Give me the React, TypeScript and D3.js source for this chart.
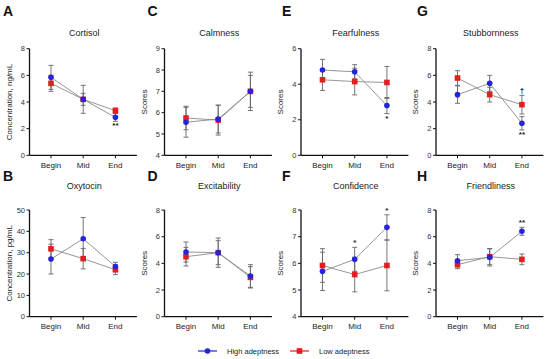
import React from "react";
import * as d3 from "d3";

const categories = ["Begin", "Mid", "End"];

const panelLetters = ["A", "C", "E", "G", "B", "D", "F", "H"];
const panelTitles = ["Cortisol", "Calmness", "Fearfulness", "Stubbornness", "Oxytocin", "Excitability", "Confidence", "Friendliness"];
const yLabels = ["Concentration, ng/mL", "Scores", "Scores", "Scores", "Concentration, pg/mL", "Scores", "Scores", "Scores"];
const yDomains: [number, number][] = [[0, 8], [4, 9], [0, 6], [0, 8], [0, 50], [0, 8], [4, 8], [0, 8]];
const yTicks: number[][] = [
  [0, 2, 4, 6, 8],
  [4, 5, 6, 7, 8, 9],
  [0, 2, 4, 6],
  [0, 2, 4, 6, 8],
  [0, 10, 20, 30, 40, 50],
  [0, 2, 4, 6, 8],
  [4, 5, 6, 7, 8],
  [0, 2, 4, 6, 8],
];

// High adeptness means / error
const highMeans: number[][] = [
  [5.85, 4.2, 2.85],
  [5.55, 5.7, 7.0],
  [4.8, 4.7, 2.8],
  [4.55, 5.4, 2.4],
  [27, 36.5, 23.5],
  [4.85, 4.8, 3.05],
  [5.7, 6.15, 7.35],
  [4.2, 4.45, 6.4],
];
const highErr: number[][] = [
  [0.9, 1.05, 0.3],
  [0.7, 0.65, 0.9],
  [0.6, 0.4, 0.45],
  [0.65, 0.6, 0.5],
  [7, 10, 2],
  [0.75, 1.1, 0.85],
  [0.72, 0.45, 0.47],
  [0.45, 0.65, 0.3],
];
// Low adeptness means / error
const lowMeans: number[][] = [
  [5.4, 4.2, 3.35],
  [5.75, 5.65, 7.0],
  [4.25, 4.15, 4.1],
  [5.8, 4.55, 3.8],
  [31.8, 27.2, 22],
  [4.5, 4.8, 2.95],
  [5.92, 5.58, 5.92],
  [3.9, 4.5, 4.3],
];
const lowErr: number[][] = [
  [0.6, 0.45, 0.2],
  [0.55, 0.7, 0.75],
  [0.6, 0.75, 0.9],
  [0.55, 0.55, 0.7],
  [4.3, 4.8, 2.3],
  [0.7, 0.9, 0.8],
  [0.63, 0.65, 0.95],
  [0.3, 0.6, 0.4],
];
// significance marks: [panel, category index, series, text, position]
const sigMarks: [number, number, "high" | "low", string, "above" | "below"][] = [
  [0, 2, "high", "**", "below"],
  [2, 2, "high", "*", "below"],
  [3, 2, "high", "**", "below"],
  [3, 2, "low", "†", "above"],
  [6, 1, "high", "*", "above"],
  [6, 2, "high", "*", "above"],
  [7, 2, "high", "**", "above"],
];
const seriesNames = ["High adeptness", "Low adeptness"];

const BLUE = "#2424dc";
const RED = "#e21f1f";
const FONT = "'Liberation Sans', Arial, sans-serif";

const colX = [29.5, 164.5, 301, 436];
const letterOffset = [26.5, 17, 19, 19];
const rowTop = [48.7, 210];
const rowBottom = [155.3, 316.7];
const rowTitleY = [36, 189];
const rowLetterY = [16, 181];
const AXW = 107.4;

function Panel({ i }: { i: number }) {
  const col = i % 4;
  const row = Math.floor(i / 4);
  const x0 = colX[col];
  const top = rowTop[row];
  const bottom = rowBottom[row];
  const x = d3.scalePoint<string>().domain(categories).range([x0, x0 + AXW]).padding(0.667);
  const y = d3.scaleLinear().domain(yDomains[i]).range([bottom, top]);
  const line = d3.line<number>().x((_, k) => x(categories[k])!).y((v) => y(v));
  const series = [
    { m: lowMeans[i], e: lowErr[i], color: RED, kind: "low" },
    { m: highMeans[i], e: highErr[i], color: BLUE, kind: "high" },
  ];
  const cap = 2.5;
  return (
    <g>
      <text x={x0 - letterOffset[col]} y={rowLetterY[row]} fontSize={14} fontWeight="bold" fontFamily={FONT} fill="#111">
        {panelLetters[i]}
      </text>
      <text x={x0 + AXW / 2 + 1} y={rowTitleY[row]} textAnchor="middle" fontSize={9} fontFamily={FONT} fill="#222">
        {panelTitles[i]}
      </text>
      <text
        transform={`translate(${x0 - 18},${(top + bottom) / 2}) rotate(-90)`}
        textAnchor="middle"
        fontSize={8}
        fontFamily={FONT}
        fill="#222"
      >
        {yLabels[i]}
      </text>
      {/* y axis */}
      <line x1={x0} x2={x0} y1={top} y2={bottom} stroke="#111" strokeWidth={1.3} />
      {yTicks[i].map((t) => (
        <g key={t}>
          <line x1={x0 - 3} x2={x0} y1={y(t)} y2={y(t)} stroke="#111" strokeWidth={1} />
          <text x={x0 - 4.5} y={y(t) + 2.6} textAnchor="end" fontSize={7.5} fontFamily={FONT} fill="#333">
            {t}
          </text>
        </g>
      ))}
      {/* x axis */}
      <line x1={x0} x2={x0 + AXW} y1={bottom} y2={bottom} stroke="#111" strokeWidth={1.3} />
      {categories.map((c) => (
        <g key={c}>
          <line x1={x(c)} x2={x(c)} y1={bottom} y2={bottom + 3} stroke="#111" strokeWidth={1} />
          <text x={x(c)} y={bottom + 12.5} textAnchor="middle" fontSize={8} fontFamily={FONT} fill="#222">
            {c}
          </text>
        </g>
      ))}
      {/* lines */}
      {series.map((s) => (
        <path key={s.kind + "l"} d={line(s.m) || ""} fill="none" stroke="#8a8a8a" strokeWidth={0.9} />
      ))}
      {/* error bars */}
      {series.map((s) =>
        s.m.map((v, k) => {
          const cx = x(categories[k])!;
          const y1 = y(v + s.e[k]);
          const y2 = y(v - s.e[k]);
          return (
            <g key={s.kind + "e" + k} stroke="#666" strokeWidth={0.9}>
              <line x1={cx} x2={cx} y1={y1} y2={y2} />
              <line x1={cx - cap} x2={cx + cap} y1={y1} y2={y1} />
              <line x1={cx - cap} x2={cx + cap} y1={y2} y2={y2} />
            </g>
          );
        })
      )}
      {/* markers */}
      {series.map((s) =>
        s.m.map((v, k) => {
          const cx = x(categories[k])!;
          const cy = y(v);
          return s.kind === "low" ? (
            <rect key={s.kind + "m" + k} x={cx - 2.8} y={cy - 2.8} width={5.6} height={5.6} fill={s.color} />
          ) : (
            <circle key={s.kind + "m" + k} cx={cx} cy={cy} r={2.8} fill={s.color} />
          );
        })
      )}
      {sigMarks
        .filter((m) => m[0] === i)
        .map((m, j) => {
          const k = m[1];
          const mean = m[2] === "high" ? highMeans[i][k] : lowMeans[i][k];
          const err = m[2] === "high" ? highErr[i][k] : lowErr[i][k];
          const cx = x(categories[k])!;
          const yy = m[4] === "above" ? y(mean + err) - 2 : y(mean - err) + 7;
          return (
            <text key={"s" + j} x={cx} y={yy} textAnchor="middle" fontSize={8} fontWeight="bold" fontFamily={FONT} fill="#222">
              {m[3]}
            </text>
          );
        })}
    </g>
  );
}

export default function App() {
  const legendY = 351;
  return (
    <svg width={550} height={359} style={{ position: "absolute", left: 0, top: 0, background: "#fff" }}>
      <rect width={550} height={359} fill="#fff" />
      {panelTitles.map((_, i) => (
        <Panel key={i} i={i} />
      ))}
      <g>
        <line x1={198} x2={217} y1={legendY} y2={legendY} stroke={BLUE} strokeWidth={1.2} />
        <circle cx={207.5} cy={legendY} r={2.8} fill={BLUE} />
        <text x={227} y={legendY + 2.8} fontSize={7.5} fontFamily={FONT} fill="#222">
          {seriesNames[0]}
        </text>
        <line x1={290} x2={309} y1={legendY} y2={legendY} stroke={RED} strokeWidth={1.2} />
        <rect x={296.7} y={legendY - 2.8} width={5.6} height={5.6} fill={RED} />
        <text x={319} y={legendY + 2.8} fontSize={7.5} fontFamily={FONT} fill="#222">
          {seriesNames[1]}
        </text>
      </g>
    </svg>
  );
}
